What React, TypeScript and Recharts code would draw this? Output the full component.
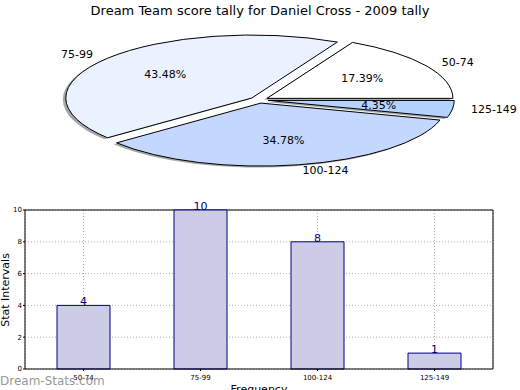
import React from 'react';
import { PieChart, Pie, Cell, BarChart, Bar, XAxis, YAxis, CartesianGrid, LabelList } from 'recharts';

const title = 'Dream Team score tally for Daniel Cross - 2009 tally';
const categories = ['50-74', '75-99', '100-124', '125-149'];
const counts = [4, 10, 8, 1];
const sliceColors = ['#ffffff', '#eaf2ff', '#c4d8ff', '#b4d3ff'];
const yTicks = [0, 2, 4, 6, 8, 10];
const yLabel = 'Stat Intervals';
const xLabel = 'Frequency';
const watermark = 'Dream-Stats.com';

const data = categories.map((c, i) => ({ name: c, value: counts[i] }));

const FONT = "'DejaVu Sans', sans-serif";
const RX = 186;
const RY = 63;
const RATIO = RY / RX;
const EXPLODE = 0.05;
const RAD = Math.PI / 180;

function ellipsePath(cx: number, cy: number, rx: number, ry: number, s: number, e: number) {
  const x1 = cx + rx * Math.cos(s * RAD);
  const y1 = cy - ry * Math.sin(s * RAD);
  const x2 = cx + rx * Math.cos(e * RAD);
  const y2 = cy - ry * Math.sin(e * RAD);
  const large = Math.abs(e - s) > 180 ? 1 : 0;
  return `M${cx},${cy} L${x1},${y1} A${rx},${ry} 0 ${large} 0 ${x2},${y2} Z`;
}

function explodedCenter(props: any) {
  const { cx, cy, outerRadius, midAngle } = props;
  const rx = outerRadius;
  const ry = outerRadius * RATIO;
  return {
    ox: cx + EXPLODE * rx * Math.cos(midAngle * RAD),
    oy: cy - EXPLODE * ry * Math.sin(midAngle * RAD),
    rx,
    ry,
  };
}

const SliceShape = (props: any) => {
  const { startAngle, endAngle, fill } = props;
  const { ox, oy, rx, ry } = explodedCenter(props);
  return <path d={ellipsePath(ox, oy, rx, ry, startAngle, endAngle)} fill={fill} stroke="#000" strokeWidth={1} strokeLinejoin="miter" />;
};

const ShadowShape = (props: any) => {
  const { startAngle, endAngle } = props;
  const { ox, oy, rx, ry } = explodedCenter(props);
  return <path d={ellipsePath(ox - 3, oy + 1.5, rx, ry, startAngle, endAngle)} fill="#4d4d4d" fillOpacity={0.5} stroke="none" />;
};

const renderLabel = (props: any) => {
  const { percent, midAngle } = props;
  const name = props.payload?.name ?? props.name;
  const { ox, oy, rx, ry } = explodedCenter(props);
  const c = Math.cos(midAngle * RAD);
  const s = Math.sin(midAngle * RAD);
  const lx = ox + 1.1 * rx * c;
  const ly = oy - 1.1 * ry * s;
  const px = ox + 0.6 * rx * c;
  const py = oy - 0.6 * ry * s;
  return (
    <g>
      <text x={lx} y={ly} textAnchor={c >= 0 ? 'start' : 'end'} dominantBaseline="central" fontSize={11} fill="#000" fontFamily={FONT}>
        {name}
      </text>
      <text x={px} y={py} textAnchor="middle" dominantBaseline="central" fontSize={11} fill="#000" fontFamily={FONT}>
        {(percent * 100).toFixed(2) + '%'}
      </text>
    </g>
  );
};

// frame lines at the plot-area edges, taken from the chart's own layout offset
const frameTop = (args: any) => [args.offset.top];
const frameRight = (args: any) => [args.offset.left + args.offset.width];

export default function App() {
  return (
    <div style={{ position: 'absolute', left: 0, top: 0, width: 520, height: 390, background: '#fff', fontFamily: FONT, overflow: 'hidden' }}>
      <div style={{ position: 'absolute', left: 0, top: 0 }}>
        <PieChart width={520} height={190} margin={{ top: 0, right: 0, bottom: 0, left: 0 }}>
          <text x={260} y={15} textAnchor="middle" fontSize={13} fill="#000" fontFamily={FONT}>
            {title}
          </text>
          <Pie
            data={data}
            dataKey="value"
            nameKey="name"
            cx={259}
            cy={100}
            outerRadius={RX}
            startAngle={0}
            endAngle={360}
            isAnimationActive={false}
            shape={ShadowShape}
            inactiveShape={ShadowShape}
            label={false}
            labelLine={false}
            stroke="none"
          >
            {data.map((d, i) => (
              <Cell key={'s' + i} fill="#4d4d4d" />
            ))}
          </Pie>
          <Pie
            data={data}
            dataKey="value"
            nameKey="name"
            cx={259}
            cy={100}
            outerRadius={RX}
            startAngle={0}
            endAngle={360}
            isAnimationActive={false}
            shape={SliceShape}
            inactiveShape={SliceShape}
            label={renderLabel}
            labelLine={false}
          >
            {data.map((d, i) => (
              <Cell key={'c' + i} fill={sliceColors[i]} />
            ))}
          </Pie>
        </PieChart>
      </div>
      <div style={{ position: 'absolute', left: 0, top: 190 }}>
        <BarChart width={520} height={200} data={data} margin={{ top: 20, right: 27, bottom: 9, left: 0 }}>
          <CartesianGrid stroke="#b0b0b0" strokeDasharray="1 2" />
          <CartesianGrid
            stroke="#000"
            strokeWidth={1}
            horizontalCoordinatesGenerator={frameTop}
            verticalCoordinatesGenerator={frameRight}
          />
          <XAxis
            dataKey="name"
            height={12}
            tick={{ fontSize: 7, fill: '#000', fontFamily: FONT }}
            tickSize={2}
            tickMargin={4}
            axisLine={{ stroke: '#000' }}
            tickLine={{ stroke: '#000' }}
          />
          <YAxis
            width={25}
            domain={[0, 10]}
            ticks={yTicks}
            tick={{ fontSize: 7, fill: '#000', fontFamily: FONT }}
            tickSize={2}
            tickMargin={1}
            axisLine={{ stroke: '#000' }}
            tickLine={{ stroke: '#000' }}
          />
          <Bar dataKey="value" fill="#cccce6" stroke="#000080" strokeWidth={1} barSize={53} isAnimationActive={false}>
            <LabelList dataKey="value" position="top" offset={0} fill="#000080" fontSize={11} fontFamily={FONT} />
          </Bar>
        </BarChart>
      </div>
      <svg width={520} height={390} style={{ position: 'absolute', left: 0, top: 0, pointerEvents: 'none' }}>
        <text x={5} y={290} transform="rotate(-90 5 290)" textAnchor="middle" dominantBaseline="central" fontSize={11} fill="#000" fontFamily={FONT}>
          {yLabel}
        </text>
        <text x={259} y={393} textAnchor="middle" fontSize={11} fill="#000" fontFamily={FONT}>
          {xLabel}
        </text>
        <text x={0} y={385} textAnchor="start" fontSize={12} fill="#8a8a8a" fillOpacity={0.9} fontFamily={FONT}>
          {watermark}
        </text>
      </svg>
    </div>
  );
}
